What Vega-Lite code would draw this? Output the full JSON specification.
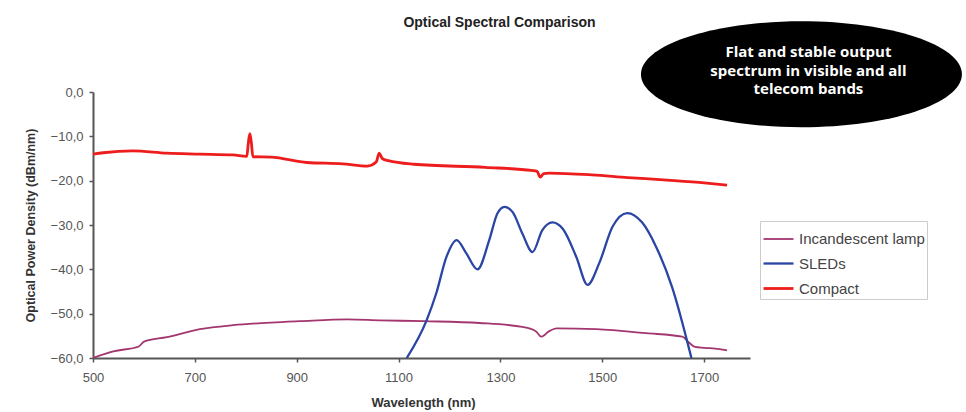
{
  "$schema": "https://vega.github.io/schema/vega-lite/v6.json",
  "autosize": {"type": "none"},
  "width": 657,
  "height": 266,
  "padding": {"left": 93, "top": 92, "right": 216, "bottom": 54},
  "background": "white",
  "config": {
    "font": "Liberation Sans",
    "view": {"stroke": null}
  },
  "title": {
    "text": "Optical Spectral Comparison",
    "fontSize": 14,
    "fontWeight": "bold",
    "color": "#222",
    "anchor": "middle",
    "frame": "group",
    "dx": 78,
    "offset": -9
  },
  "datasets": {
    "spectra": [
      {"series": "Compact", "wl": 500, "db": -14.0},
      {"series": "Compact", "wl": 520, "db": -13.7},
      {"series": "Compact", "wl": 578, "db": -13.3},
      {"series": "Compact", "wl": 645, "db": -13.8},
      {"series": "Compact", "wl": 710, "db": -14.0},
      {"series": "Compact", "wl": 775, "db": -14.2},
      {"series": "Compact", "wl": 802, "db": -14.5},
      {"series": "Compact", "wl": 805, "db": -11.5},
      {"series": "Compact", "wl": 808, "db": -9.4},
      {"series": "Compact", "wl": 811, "db": -11.5},
      {"series": "Compact", "wl": 814, "db": -14.6},
      {"series": "Compact", "wl": 850, "db": -14.7},
      {"series": "Compact", "wl": 920, "db": -15.9},
      {"series": "Compact", "wl": 990, "db": -16.2},
      {"series": "Compact", "wl": 1039, "db": -16.7},
      {"series": "Compact", "wl": 1056, "db": -15.8},
      {"series": "Compact", "wl": 1062, "db": -13.8},
      {"series": "Compact", "wl": 1068, "db": -15.0},
      {"series": "Compact", "wl": 1080, "db": -15.5},
      {"series": "Compact", "wl": 1130, "db": -16.3},
      {"series": "Compact", "wl": 1270, "db": -17.0},
      {"series": "Compact", "wl": 1361, "db": -17.7},
      {"series": "Compact", "wl": 1372, "db": -17.9},
      {"series": "Compact", "wl": 1378, "db": -19.2},
      {"series": "Compact", "wl": 1385, "db": -18.4},
      {"series": "Compact", "wl": 1396, "db": -18.3},
      {"series": "Compact", "wl": 1480, "db": -18.7},
      {"series": "Compact", "wl": 1550, "db": -19.3},
      {"series": "Compact", "wl": 1620, "db": -19.8},
      {"series": "Compact", "wl": 1690, "db": -20.4},
      {"series": "Compact", "wl": 1745, "db": -21.0},
      {"series": "Incandescent lamp", "wl": 500, "db": -60.0},
      {"series": "Incandescent lamp", "wl": 540, "db": -58.5},
      {"series": "Incandescent lamp", "wl": 590, "db": -57.4},
      {"series": "Incandescent lamp", "wl": 600, "db": -56.3},
      {"series": "Incandescent lamp", "wl": 645, "db": -55.3},
      {"series": "Incandescent lamp", "wl": 710, "db": -53.5},
      {"series": "Incandescent lamp", "wl": 775, "db": -52.6},
      {"series": "Incandescent lamp", "wl": 850, "db": -52.0},
      {"series": "Incandescent lamp", "wl": 906, "db": -51.7},
      {"series": "Incandescent lamp", "wl": 1000, "db": -51.3},
      {"series": "Incandescent lamp", "wl": 1063, "db": -51.5},
      {"series": "Incandescent lamp", "wl": 1150, "db": -51.7},
      {"series": "Incandescent lamp", "wl": 1259, "db": -52.1},
      {"series": "Incandescent lamp", "wl": 1343, "db": -53.0},
      {"series": "Incandescent lamp", "wl": 1370, "db": -54.0},
      {"series": "Incandescent lamp", "wl": 1380, "db": -55.2},
      {"series": "Incandescent lamp", "wl": 1395, "db": -54.0},
      {"series": "Incandescent lamp", "wl": 1410, "db": -53.3},
      {"series": "Incandescent lamp", "wl": 1488, "db": -53.5},
      {"series": "Incandescent lamp", "wl": 1586, "db": -54.4},
      {"series": "Incandescent lamp", "wl": 1657, "db": -55.2},
      {"series": "Incandescent lamp", "wl": 1670, "db": -56.5},
      {"series": "Incandescent lamp", "wl": 1682, "db": -57.5},
      {"series": "Incandescent lamp", "wl": 1700, "db": -57.7},
      {"series": "Incandescent lamp", "wl": 1730, "db": -58.0},
      {"series": "Incandescent lamp", "wl": 1745, "db": -58.3},
      {"series": "SLEDs", "wl": 1116, "db": -60.0},
      {"series": "SLEDs", "wl": 1155, "db": -51.5},
      {"series": "SLEDs", "wl": 1174, "db": -45.4},
      {"series": "SLEDs", "wl": 1194, "db": -37.2},
      {"series": "SLEDs", "wl": 1214, "db": -33.4},
      {"series": "SLEDs", "wl": 1233, "db": -36.4},
      {"series": "SLEDs", "wl": 1255, "db": -40.0},
      {"series": "SLEDs", "wl": 1278, "db": -33.4},
      {"series": "SLEDs", "wl": 1294, "db": -27.4},
      {"series": "SLEDs", "wl": 1308, "db": -25.9},
      {"series": "SLEDs", "wl": 1324, "db": -27.1},
      {"series": "SLEDs", "wl": 1343, "db": -31.9},
      {"series": "SLEDs", "wl": 1363, "db": -36.1},
      {"series": "SLEDs", "wl": 1382, "db": -31.2},
      {"series": "SLEDs", "wl": 1402, "db": -29.4},
      {"series": "SLEDs", "wl": 1422, "db": -30.8},
      {"series": "SLEDs", "wl": 1449, "db": -37.2},
      {"series": "SLEDs", "wl": 1471, "db": -43.5},
      {"series": "SLEDs", "wl": 1494, "db": -38.6},
      {"series": "SLEDs", "wl": 1520, "db": -30.4},
      {"series": "SLEDs", "wl": 1549, "db": -27.3},
      {"series": "SLEDs", "wl": 1578, "db": -29.4},
      {"series": "SLEDs", "wl": 1606, "db": -35.0},
      {"series": "SLEDs", "wl": 1637, "db": -44.0},
      {"series": "SLEDs", "wl": 1675, "db": -60.0}
    ],
    "note": [
      {"wl": 1891, "db": 4.0, "label": ["Flat and stable output", "spectrum in visible and all", "telecom bands"], "ly": 9.0}
    ]
  },
  "layer": [
    {
      "data": {"name": "spectra"},
      "mark": {"type": "line", "interpolate": "monotone", "clip": true},
      "encoding": {
        "x": {
          "field": "wl", "type": "quantitative",
          "scale": {"domain": [500, 1790], "nice": false, "zero": false},
          "axis": {
            "title": "Wavelength (nm)",
            "values": [500, 700, 900, 1100, 1300, 1500, 1700],
            "format": "d",
            "labelFlush": false,
            "grid": false,
            "domainColor": "#555", "domainWidth": 2,
            "tickColor": "#555", "tickSize": 4, "tickWidth": 1.5,
            "labelFontSize": 13, "labelColor": "#555", "labelPadding": 9,
            "titleFontSize": 13, "titleFontWeight": "bold", "titleColor": "#333", "titlePadding": 12,
            "titleX": 330
          }
        },
        "y": {
          "field": "db", "type": "quantitative",
          "scale": {"domain": [-60, 0], "nice": false},
          "axis": {
            "title": "Optical Power Density (dBm/nm)",
            "values": [0, -10, -20, -30, -40, -50, -60],
            "labelExpr": "replace(format(datum.value, '.1f'), '.', ',')",
            "labelFlush": false,
            "grid": false,
            "domainColor": "#555", "domainWidth": 2,
            "tickColor": "#555", "tickSize": 4, "tickWidth": 1.5,
            "labelFontSize": 13, "labelColor": "#555", "labelPadding": 6,
            "titleFontSize": 12.5, "titleFontWeight": "bold", "titleColor": "#333", "titlePadding": 13
          }
        },
        "color": {
          "field": "series", "type": "nominal",
          "scale": {
            "domain": ["Incandescent lamp", "SLEDs", "Compact"],
            "range": ["#a3366f", "#2a45a3", "#ee1d1d"]
          },
          "legend": {
            "title": null,
            "orient": "none",
            "legendX": 667,
            "legendY": 129,
            "strokeColor": "#ccc",
            "padding": 2,
            "symbolType": "stroke",
            "symbolSize": 900,
            "symbolStrokeWidth": 2.5,
            "labelFontSize": 15,
            "labelColor": "#444",
            "labelOffset": 4,
            "rowPadding": -11
          }
        },
        "strokeWidth": {
          "field": "series", "type": "nominal",
          "scale": {"domain": ["Incandescent lamp", "SLEDs", "Compact"], "range": [1.8, 2.8, 2.4]},
          "legend": null
        }
      }
    },
    {
      "data": {"name": "note"},
      "mark": {
        "type": "point",
        "shape": "M-1,0 A1,0.33 0 1,1 1,0 A1,0.33 0 1,1 -1,0 Z",
        "size": 103000,
        "filled": true,
        "color": "#000",
        "opacity": 1
      },
      "encoding": {
        "x": {"field": "wl", "type": "quantitative"},
        "y": {"field": "db", "type": "quantitative"}
      }
    },
    {
      "data": {"name": "note"},
      "mark": {
        "type": "text",
        "color": "white",
        "font": "Open Sans",
        "fontWeight": "bold",
        "fontSize": 15,
        "lineHeight": 18.5,
        "align": "center",
        "baseline": "middle",
        "dx": 7
      },
      "encoding": {
        "x": {"field": "wl", "type": "quantitative"},
        "y": {"field": "ly", "type": "quantitative"},
        "text": {"field": "label"}
      }
    }
  ]
}
